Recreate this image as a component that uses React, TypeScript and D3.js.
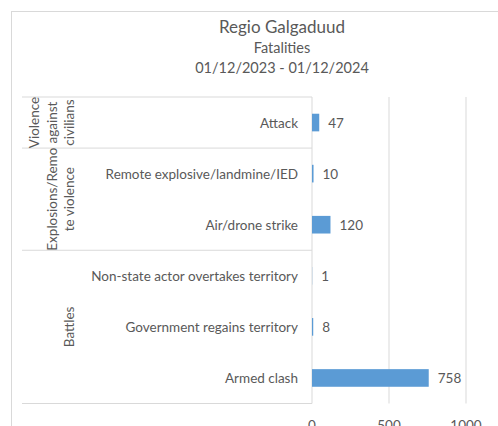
import React from "react";
import * as d3 from "d3";

const titleLines = ["Regio Galgaduud", "Fatalities", "01/12/2023 - 01/12/2024"];
const categories = [
  "Attack",
  "Remote explosive/landmine/IED",
  "Air/drone strike",
  "Non-state actor overtakes territory",
  "Government regains territory",
  "Armed clash",
];
const values = [47, 10, 120, 1, 8, 758];
const groupNames = ["Violence against civilians", "Explosions/Remote violence", "Battles"];
const groupLines = [["Violence", "against", "civilians"], ["Explosions/Remo", "te violence"], ["Battles"]];
const groupSizes = [1, 2, 3];
const xTicks = [0, 500, 1000];

const W = 498;
const H = 426;
const FONT = "Lato, 'Open Sans', sans-serif";
const TXT = "#595959";
const GRID = "#d9d9d9";
const BAR = "#5b9bd5";

export default function App() {
  const plotTop = 97;
  const plotBottom = 403.5;
  const x = d3.scaleLinear().domain([0, 1000]).range([312, 466]);
  const y = d3.scaleBand<string>().domain(categories).range([plotTop, plotBottom]).padding(0);
  const bw = y.bandwidth();
  const barH = bw * 0.345;
  const tableLeft = 22;

  let acc = 0;
  const groups = groupSizes.map((n, i) => {
    const start = acc;
    acc += n;
    const y0 = y(categories[start])!;
    const y1 = y(categories[start + n - 1])! + bw;
    return { name: groupNames[i], lines: groupLines[i], y0, y1 };
  });
  const lastLineX = 74;
  const lineGap = 17.5;
  const fs = 13.5;

  return (
    <svg width={W} height={H} style={{ position: "absolute", left: 0, top: 0 }} fontFamily={FONT}>
      <rect x={0} y={0} width={W} height={H} fill="#fff" />
      <rect x={11.5} y={11.5} width={W + 20} height={H + 20} fill="none" stroke={GRID} strokeWidth={1} />
      {titleLines.map((t, i) => (
        <text
          key={t}
          x={282}
          y={[33, 53, 73][i]}
          textAnchor="middle"
          fill={TXT}
          fontSize={i === 0 ? 17 : 14.5}
        >
          {t}
        </text>
      ))}
      {xTicks.slice(1).map((t) => (
        <line key={t} x1={x(t)} x2={x(t)} y1={plotTop} y2={plotBottom} stroke={GRID} strokeWidth={1} />
      ))}
      <line x1={x(0)} x2={x(0)} y1={plotTop} y2={plotBottom} stroke={GRID} />
      {[groups[0].y0, ...groups.map((g) => g.y1)].map((yy, i) => (
        <line key={i} x1={tableLeft} x2={x(0)} y1={yy} y2={yy} stroke={GRID} />
      ))}
      {categories.map((c, i) => {
        const cy = y(c)! + bw / 2;
        return (
          <g key={c}>
            <rect x={x(0)} y={cy - barH / 2} width={x(values[i]) - x(0)} height={barH} fill={BAR} />
            <text x={x(values[i]) + 9} y={cy + 5} fill={TXT} fontSize={fs}>
              {values[i]}
            </text>
            <text x={298} y={cy + 5} textAnchor="end" fill={TXT} fontSize={fs}>
              {c}
            </text>
          </g>
        );
      })}
      {groups.map((g) => {
        const cy = (g.y0 + g.y1) / 2;
        const n = g.lines.length;
        return (
          <g key={g.name}>
            {g.lines.map((ln, j) => {
              const bx = lastLineX - (n - 1 - j) * lineGap;
              return (
                <text
                  key={ln}
                  transform={`translate(${bx},${cy}) rotate(-90)`}
                  textAnchor="middle"
                  fill={TXT}
                  fontSize={fs}
                >
                  {ln}
                </text>
              );
            })}
          </g>
        );
      })}
      {xTicks.map((t) => (
        <text key={t} x={x(t)} y={430} textAnchor="middle" fill={TXT} fontSize={fs}>
          {t}
        </text>
      ))}
    </svg>
  );
}
